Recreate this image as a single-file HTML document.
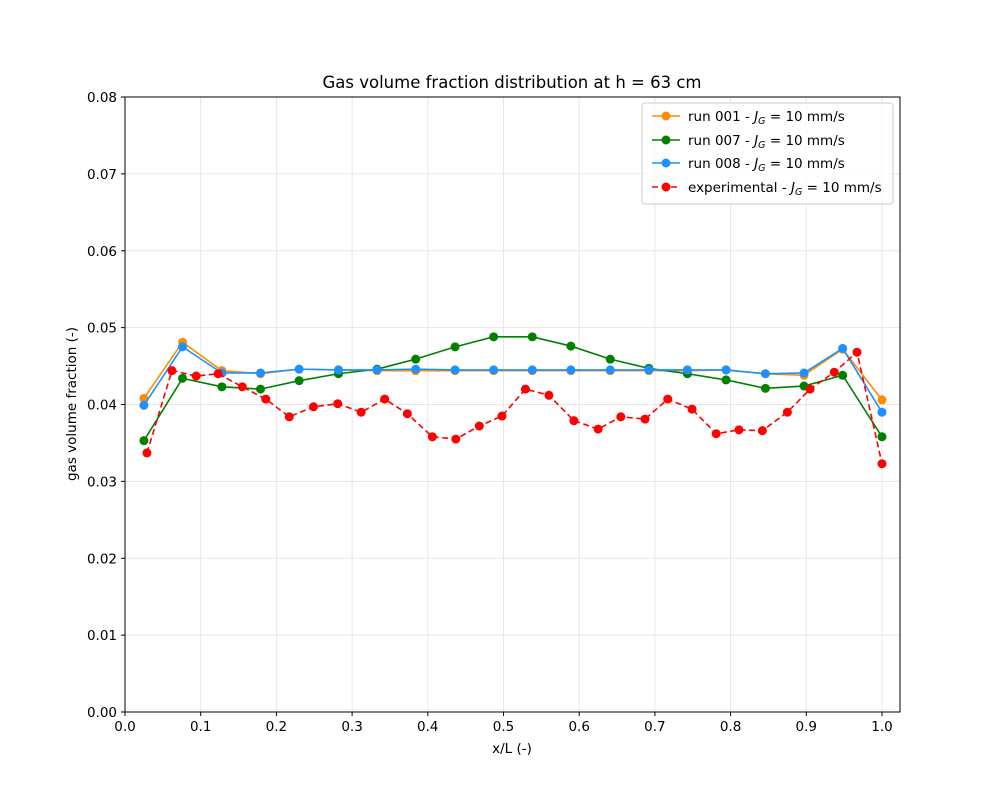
<!DOCTYPE html>
<html><head><meta charset="utf-8"><style>body{margin:0;background:#fff}svg{display:block;font-family:"DejaVu Sans","Liberation Sans",sans-serif}</style></head>
<body>
<svg id="chart" width="1000" height="800" xmlns="http://www.w3.org/2000/svg"></svg>
<script>
const simX=[0.025,0.076,0.128,0.179,0.230,0.282,0.333,0.384,0.436,0.487,0.538,0.589,0.641,0.692,0.743,0.794,0.846,0.897,0.948,1.0];
const run001=[0.0408,0.0481,0.0444,0.0440,0.0446,0.0445,0.0444,0.0444,0.0444,0.0444,0.0444,0.0444,0.0444,0.0444,0.0444,0.0445,0.0440,0.0438,0.0472,0.0406];
const run007=[0.0353,0.0434,0.0423,0.0420,0.0431,0.0440,0.0446,0.0459,0.0475,0.0488,0.0488,0.0476,0.0459,0.0447,0.0440,0.0432,0.0421,0.0424,0.0438,0.0358];
const run008=[0.0399,0.0475,0.0441,0.0441,0.0446,0.0445,0.0445,0.0446,0.0445,0.0445,0.0445,0.0445,0.0445,0.0445,0.0445,0.0445,0.0440,0.0441,0.0473,0.0390];
const expX=[0.029,0.062,0.094,0.123,0.155,0.186,0.217,0.249,0.281,0.312,0.343,0.373,0.406,0.437,0.468,0.498,0.529,0.560,0.593,0.625,0.655,0.687,0.717,0.749,0.781,0.811,0.842,0.875,0.905,0.937,0.967,1.0];
const expY=[0.0337,0.0444,0.0437,0.0440,0.0423,0.0407,0.0384,0.0397,0.0401,0.0390,0.0407,0.0388,0.0358,0.0355,0.0372,0.0385,0.0420,0.0412,0.0379,0.0368,0.0384,0.0381,0.0407,0.0394,0.0362,0.0367,0.0366,0.0390,0.0420,0.0442,0.0468,0.0323];
const xTicks=[0,0.1,0.2,0.3,0.4,0.5,0.6,0.7,0.8,0.9,1.0];
const xTickLabels=["0.0","0.1","0.2","0.3","0.4","0.5","0.6","0.7","0.8","0.9","1.0"];
const yTicks=[0,0.01,0.02,0.03,0.04,0.05,0.06,0.07,0.08];
const yTickLabels=["0.00","0.01","0.02","0.03","0.04","0.05","0.06","0.07","0.08"];

const L=125,R=900,T=97,B=712;
const sx=v=>125+v*757;
const sy=v=>B-(v/0.08)*(B-T);
const svg=document.getElementById('chart');
const NS='http://www.w3.org/2000/svg';
function mk(tag,attrs,parent){const e=document.createElementNS(NS,tag);for(const k in attrs)e.setAttribute(k,attrs[k]);(parent||svg).appendChild(e);return e;}

xTicks.forEach((t,i)=>{
  const g=mk('line',{x1:sx(t),x2:sx(t),y1:T,y2:B,stroke:'#e6e6e6','stroke-width':1});
  
  
  const tk=mk('line',{x1:sx(t),x2:sx(t),y1:B,y2:B+4,stroke:'#000'});
  
  
  const tx=mk('text',{x:sx(t),y:B+19,'font-size':13.5,'text-anchor':'middle'});tx.textContent=xTickLabels[i];
  
  
});
yTicks.forEach((t,i)=>{
  const g=mk('line',{x1:L,x2:R,y1:sy(t),y2:sy(t),stroke:'#e6e6e6','stroke-width':1});
  
  
  const tk=mk('line',{x1:L-4,x2:L,y1:sy(t),y2:sy(t),stroke:'#000'});
  
  
  const tx=mk('text',{x:L-8,y:sy(t)+5,'font-size':13.5,'text-anchor':'end'});tx.textContent=yTickLabels[i];
  
  
});

function series(xs,ys,color,dash,name){
  const g=mk('g',{});
  
  
  const pts=xs.map((x,i)=>sx(x)+','+sy(ys[i])).join(' ');
  const attrs={points:pts,fill:'none',stroke:color,'stroke-width':1.6};
  if(dash)attrs['stroke-dasharray']='6,3.5';
  mk('polyline',attrs,g);
  xs.forEach((x,i)=>{const c=mk('circle',{cx:sx(x),cy:sy(ys[i]),r:4.5,fill:color},g);
    
    });
}
series(simX,run001,'#ff8c00',false,'run-001-series');
series(simX,run007,'#008000',false,'run-007-series');
series(simX,run008,'#1e90ff',false,'run-008-series');
series(expX,expY,'#ff0000',true,'experimental-series');

const frame=mk('rect',{x:L,y:T,width:R-L,height:B-T,fill:'none',stroke:'#000','stroke-width':1});


</script>
<svg style="position:absolute;left:0;top:0" width="1000" height="800" xmlns="http://www.w3.org/2000/svg">
<text x="512" y="88" font-size="16.5" text-anchor="middle">Gas volume fraction distribution at h = 63 cm</text>
<text x="512" y="753" font-size="13.5" text-anchor="middle">x/L (-)</text>
<text x="76" y="404" font-size="13.5" text-anchor="middle" transform="rotate(-90 76 404)">gas volume fraction (-)</text>
<g font-size="13.5">
<rect x="642" y="103" width="251" height="101" rx="3" fill="#fff" fill-opacity="0.8" stroke="#ccc"/>
<g><line x1="652" x2="680" y1="116" y2="116" stroke="#ff8c00" stroke-width="1.6"/><circle cx="666" cy="116" r="4.5" fill="#ff8c00"/><text x="688" y="121">run 001 - <tspan font-style="italic">J</tspan><tspan font-size="9.5" dy="3" font-style="italic">G</tspan><tspan dy="-3"> = 10 mm/s</tspan></text></g>
<g><line x1="652" x2="680" y1="140" y2="140" stroke="#008000" stroke-width="1.6"/><circle cx="666" cy="140" r="4.5" fill="#008000"/><text x="688" y="145">run 007 - <tspan font-style="italic">J</tspan><tspan font-size="9.5" dy="3" font-style="italic">G</tspan><tspan dy="-3"> = 10 mm/s</tspan></text></g>
<g><line x1="652" x2="680" y1="163" y2="163" stroke="#1e90ff" stroke-width="1.6"/><circle cx="666" cy="163" r="4.5" fill="#1e90ff"/><text x="688" y="168">run 008 - <tspan font-style="italic">J</tspan><tspan font-size="9.5" dy="3" font-style="italic">G</tspan><tspan dy="-3"> = 10 mm/s</tspan></text></g>
<g><line x1="652" x2="680" y1="187" y2="187" stroke="#ff0000" stroke-width="1.6" stroke-dasharray="6,3.5"/><circle cx="666" cy="187" r="4.5" fill="#ff0000"/><text x="688" y="192">experimental - <tspan font-style="italic">J</tspan><tspan font-size="9.5" dy="3" font-style="italic">G</tspan><tspan dy="-3"> = 10 mm/s</tspan></text></g>
</g>
</svg>
</body></html>
